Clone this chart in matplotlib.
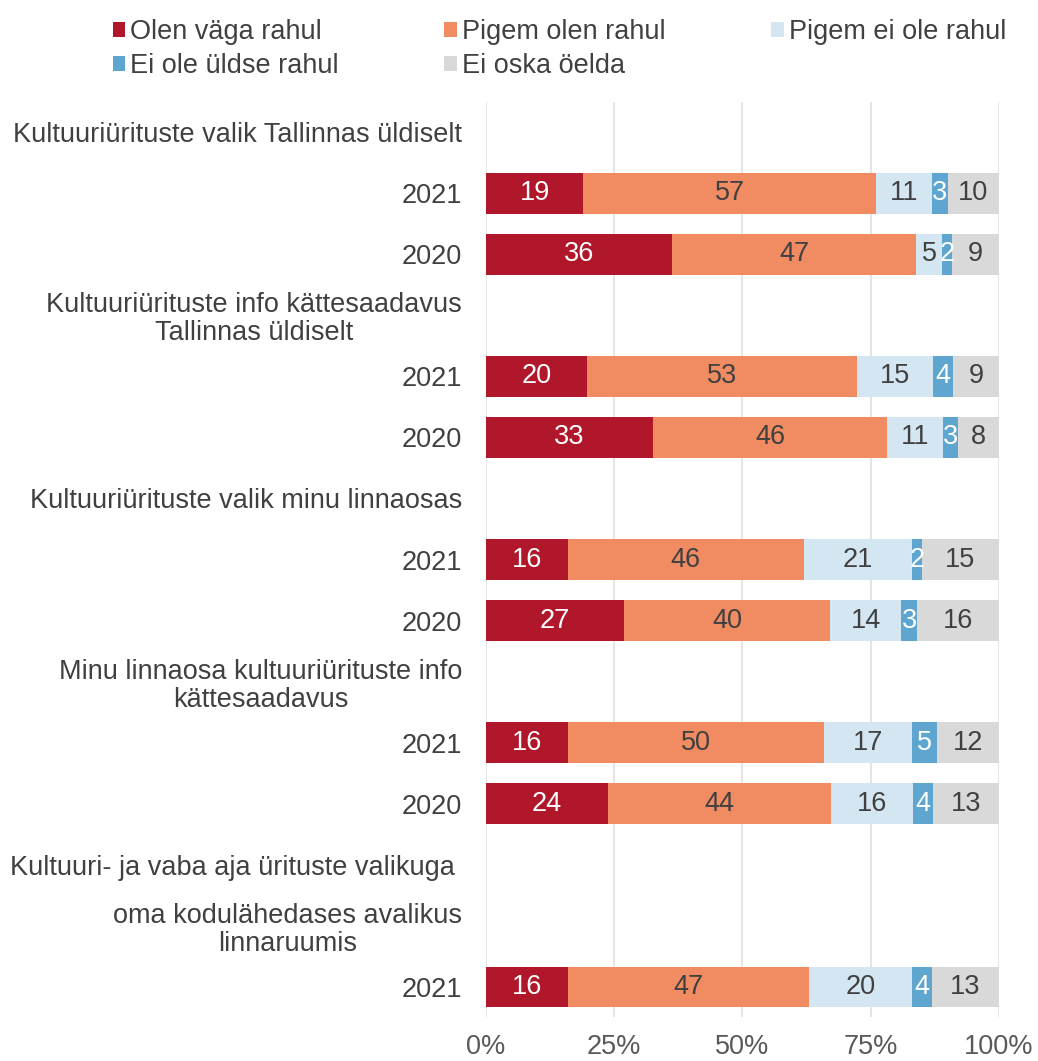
"""
100% stacked bars: satisfaction with culture events in Tallinn, 2021 vs 2020
"""
import numpy as np
import matplotlib
matplotlib.use('Agg')
import matplotlib.pyplot as plt

plt.rcParams['font.family'] = ['Liberation Sans', 'DejaVu Sans']

nan = np.nan

# row labels, top to bottom (header rows have no bar)
row_labels = [
    'Kultuuriürituste valik Tallinnas üldiselt',
    '2021', '2020',
    'Kultuuriürituste info kättesaadavus\nTallinnas üldiselt',
    '2021', '2020',
    'Kultuuriürituste valik minu linnaosas',
    '2021', '2020',
    'Minu linnaosa kultuuriürituste info\nkättesaadavus',
    '2021', '2020',
    'Kultuuri- ja vaba aja ürituste valikuga ',
    'oma kodulähedases avalikus\nlinnaruumis',
    '2021',
]

series_names = ['Olen väga rahul', 'Pigem olen rahul', 'Pigem ei ole rahul',
                'Ei ole üldse rahul', 'Ei oska öelda']

olen_vaga = [nan, 19, 36, nan, 20, 33, nan, 16, 27, nan, 16, 24, nan, nan, 16]
pigem_olen = [nan, 57, 47, nan, 53, 46, nan, 46, 40, nan, 50, 44, nan, nan, 47]
pigem_ei = [nan, 11, 5, nan, 15, 11, nan, 21, 14, nan, 17, 16, nan, nan, 20]
ei_ole = [nan, 3, 2, nan, 4, 3, nan, 2, 3, nan, 5, 4, nan, nan, 4]
ei_oska = [nan, 10, 9, nan, 9, 8, nan, 15, 16, nan, 12, 13, nan, nan, 13]

colors = ['#B0172A', '#F08B62', '#D4E6F2', '#5EA5D0', '#D9D9D9']
label_colors = ['white', '#404040', '#404040', 'white', '#404040']

data = np.array([olen_vaga, pigem_olen, pigem_ei, ei_ole, ei_oska], dtype=float)
totals = np.nansum(data, axis=0)
totals[totals == 0] = 1
shares = data / totals * 100

fig = plt.figure(figsize=(10.38, 10.61), dpi=100)
ax = fig.add_axes([0.468, 0.041, 0.4944, 0.8633])

y = np.arange(len(row_labels))
left = np.zeros(len(row_labels))
bars = []
for i in range(len(series_names)):
    vals = np.nan_to_num(shares[i])
    b = ax.barh(y, vals, left=left, height=0.67, color=colors[i],
                label=series_names[i], zorder=3)
    bars.append(b)
    for j in range(len(y)):
        if not np.isnan(data[i, j]):
            ax.text(left[j] + vals[j] / 2, y[j], '%d' % data[i, j],
                    ha='center', va='center', fontsize=19.5,
                    color=label_colors[i], zorder=4)
    left = left + vals

ax.set_xlim(0, 100)
ax.set_ylim(len(row_labels) - 0.5, -0.5)
ax.set_yticks(y)
ax.set_yticklabels(row_labels, multialignment='center', linespacing=1.1)
ax.set_xticks([0, 25, 50, 75, 100])
ax.set_xticklabels(['0%', '25%', '50%', '75%', '100%'])
ax.tick_params(axis='y', length=0, pad=17, labelsize=19.5, labelcolor='#404040')
ax.tick_params(axis='x', length=0, pad=12, labelsize=19.5, labelcolor='#595959')
ax.grid(axis='x', color='#E0E0E0', linewidth=1.2, zorder=0)
for s in ax.spines.values():
    s.set_visible(False)

# legend filled column-wise, so reorder to read row-wise
order = [0, 3, 1, 4, 2]
fig.legend([bars[k] for k in order], [series_names[k] for k in order],
           loc='upper left', bbox_to_anchor=(0.085, 1.005), ncol=3,
           frameon=False, fontsize=19.5, handlelength=0.45, handleheight=0.45,
           handletextpad=0.2, columnspacing=3.9, labelcolor='#404040',
           labelspacing=0.3)

fig.savefig('out.png', dpi=100)
